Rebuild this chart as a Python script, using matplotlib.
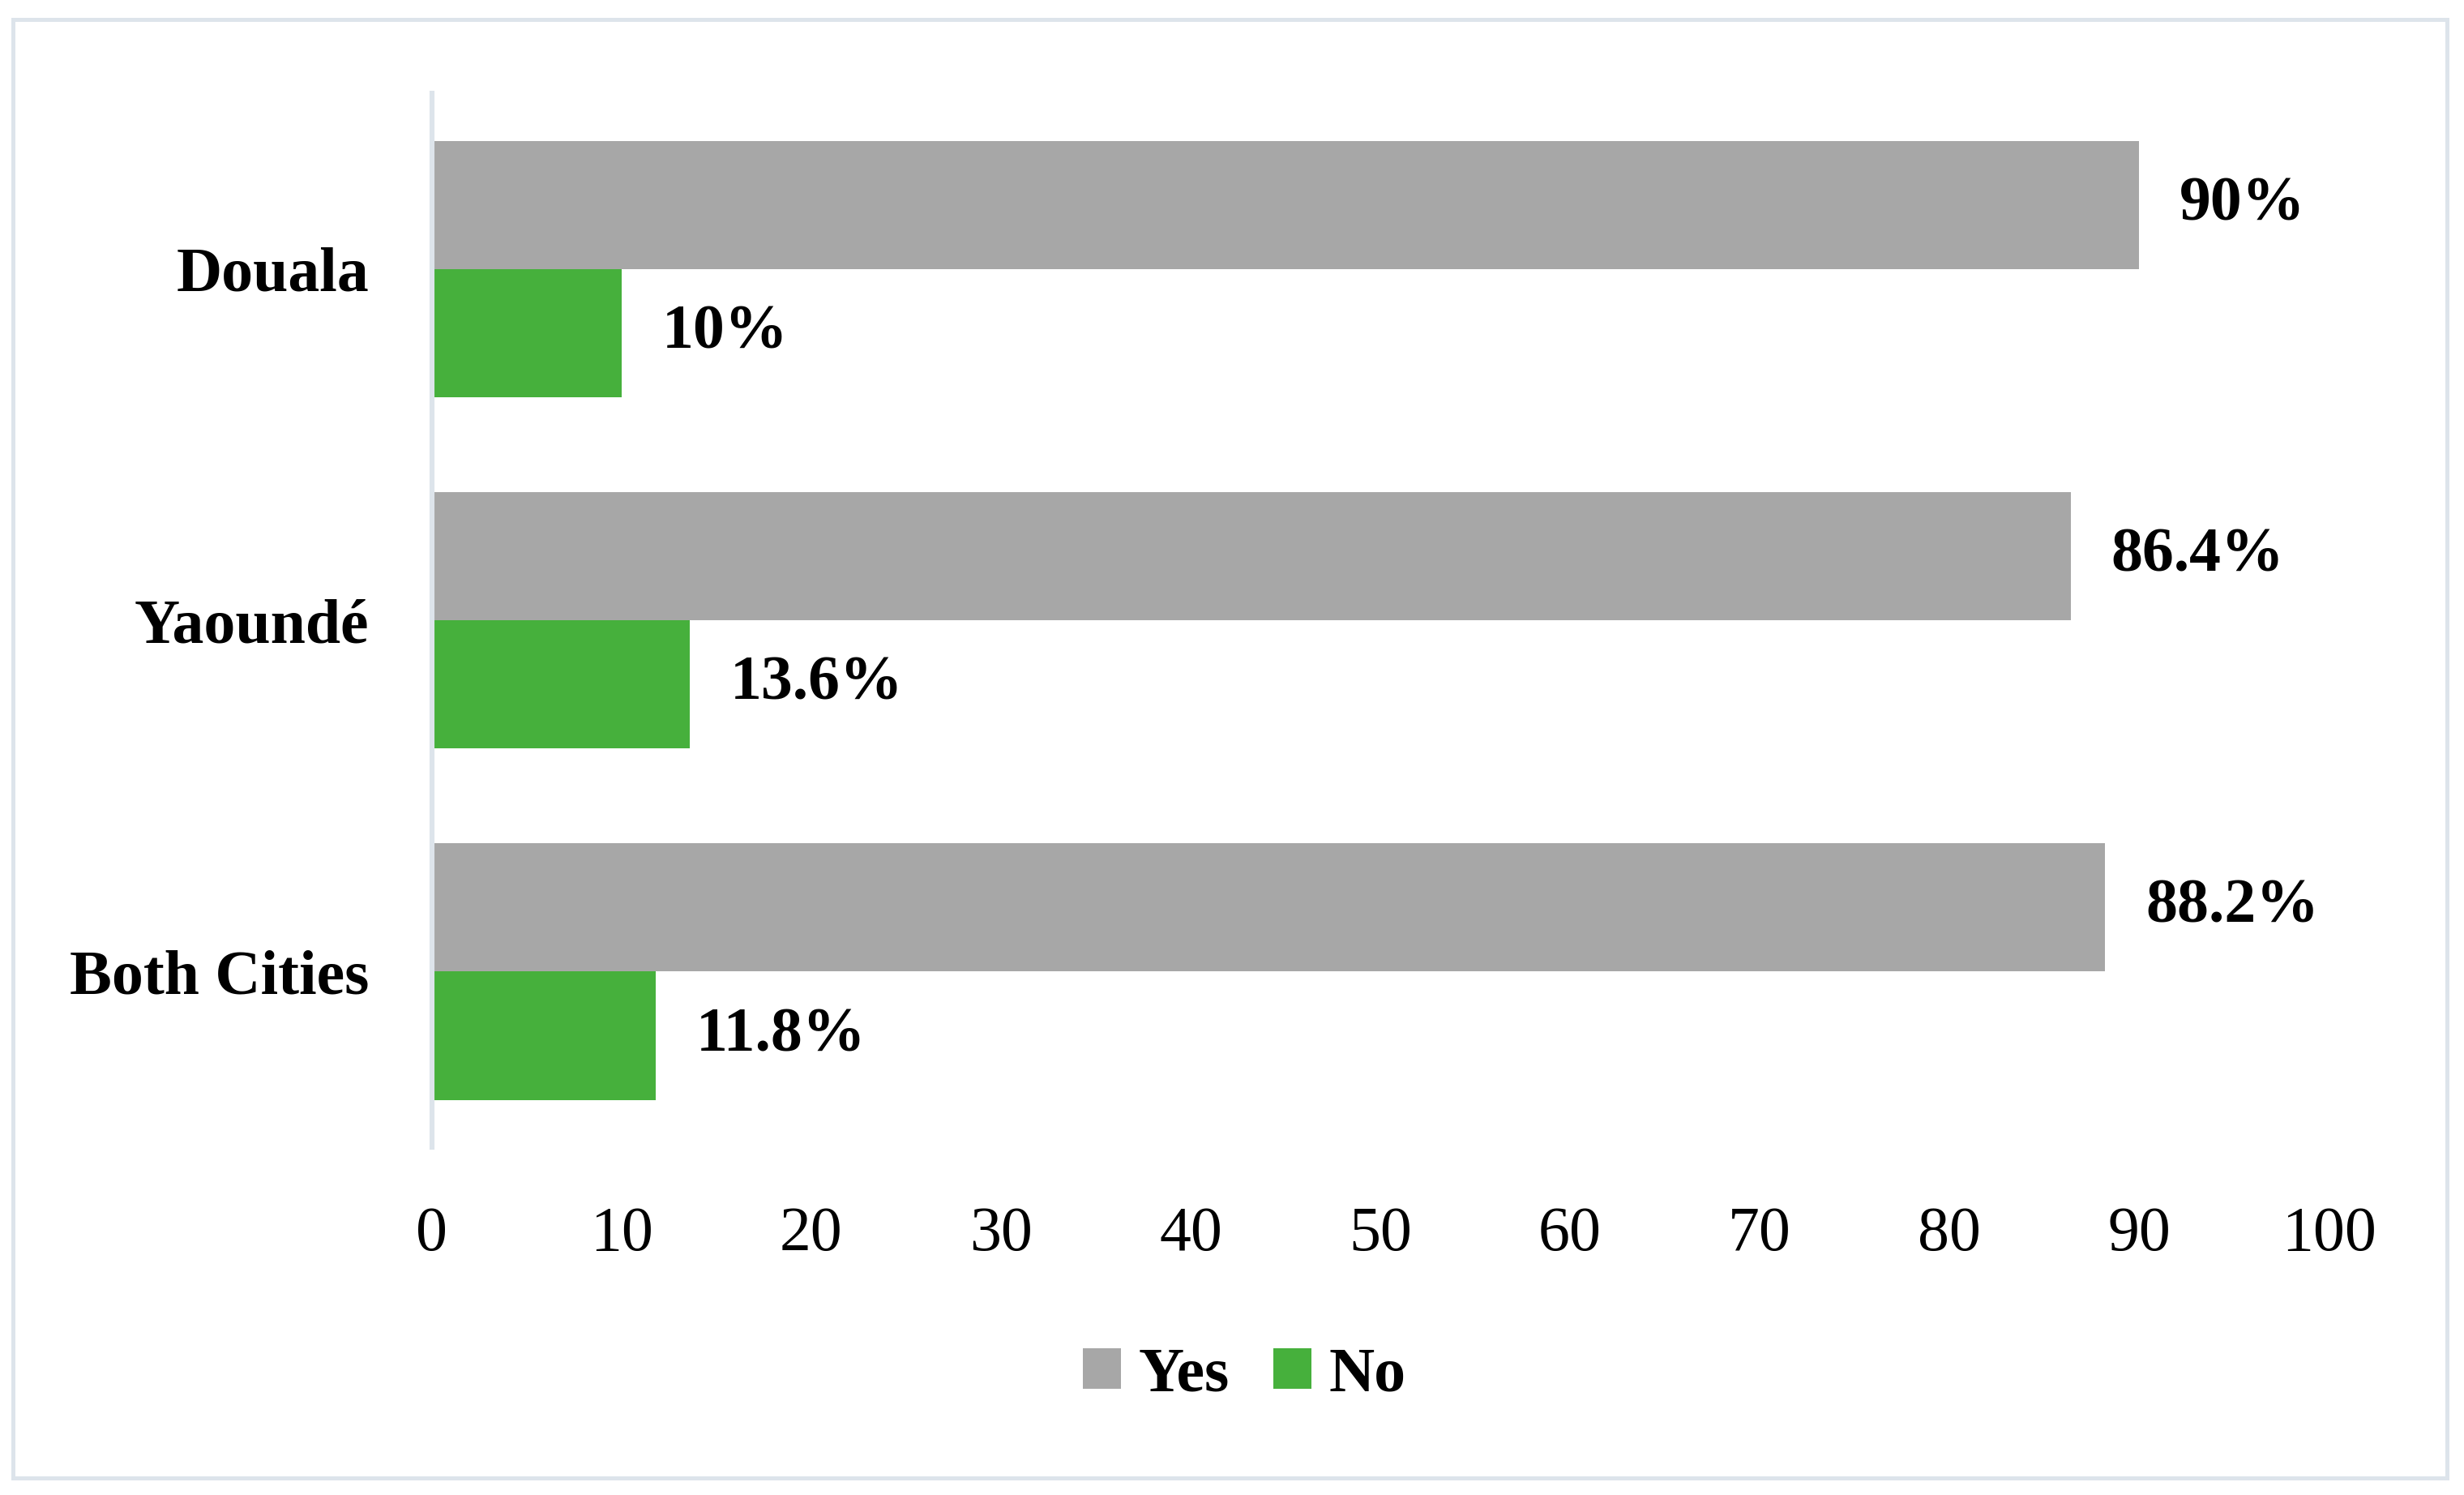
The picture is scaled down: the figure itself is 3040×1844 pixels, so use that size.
import matplotlib
matplotlib.use("Agg")
import matplotlib.pyplot as plt
from matplotlib.patches import Rectangle
import numpy as np

categories = ["Douala", "Yaoundé", "Both Cities"]
yes_values = [90, 86.4, 88.2]
no_values = [10, 13.6, 11.8]
yes_labels = ["90%", "86.4%", "88.2%"]
no_labels = ["10%", "13.6%", "11.8%"]
xticks = [0, 10, 20, 30, 40, 50, 60, 70, 80, 90, 100]

plt.rcParams['font.family'] = ['Liberation Serif', 'DejaVu Serif']

GRAY = "#A7A7A7"
GREEN = "#46B03C"
LINE = "#DDE4EB"
FS = 28

fig = plt.figure(figsize=(15.2, 9.22), dpi=200)
ax = fig.add_axes([0.1753, 0.2326, 0.9451 - 0.1753, 0.9376 - 0.2326])

n = len(categories)
ypos = np.arange(n)[::-1]
h = 0.365

ax.barh(ypos + h / 2, yes_values, height=h, color=GRAY, label="Yes")
ax.barh(ypos - h / 2, no_values, height=h, color=GREEN, label="No")

for y, v, t in zip(ypos + h / 2, yes_values, yes_labels):
    ax.annotate(t, (v, y), xytext=(18, 0), textcoords="offset points",
                ha="left", va="center", fontsize=FS, fontweight="bold")
for y, v, t in zip(ypos - h / 2, no_values, no_labels):
    ax.annotate(t, (v, y), xytext=(18, 0), textcoords="offset points",
                ha="left", va="center", fontsize=FS, fontweight="bold")

ax.set_xlim(0, 100)
ax.set_ylim(-0.5, n - 0.5)
ax.set_xticks(xticks)
ax.set_xticklabels([str(x) for x in xticks], fontsize=FS)
ax.set_yticks(ypos)
ax.set_yticklabels(categories, fontsize=FS, fontweight="bold")
ax.tick_params(axis="x", length=0, pad=26)
ax.tick_params(axis="y", length=0, pad=28)

for s in ["top", "right", "bottom"]:
    ax.spines[s].set_visible(False)
ax.spines["left"].set_color(LINE)
ax.spines["left"].set_linewidth(2.2)

leg = fig.legend(loc="center", bbox_to_anchor=(0.505, 1 - 1697 / 1844), ncol=2,
                 frameon=False, handlelength=0.6, handleheight=0.6,
                 handletextpad=0.28, columnspacing=0.7,
                 prop={"size": FS, "weight": "bold"})

fig.patches.append(Rectangle((16 / 3040, 1 - 1823 / 1844), (3019 - 16) / 3040, (1823 - 24) / 1844,
                             transform=fig.transFigure, fill=False,
                             edgecolor=LINE, linewidth=1.8))

fig.savefig("out.png", dpi=200, facecolor="white")
